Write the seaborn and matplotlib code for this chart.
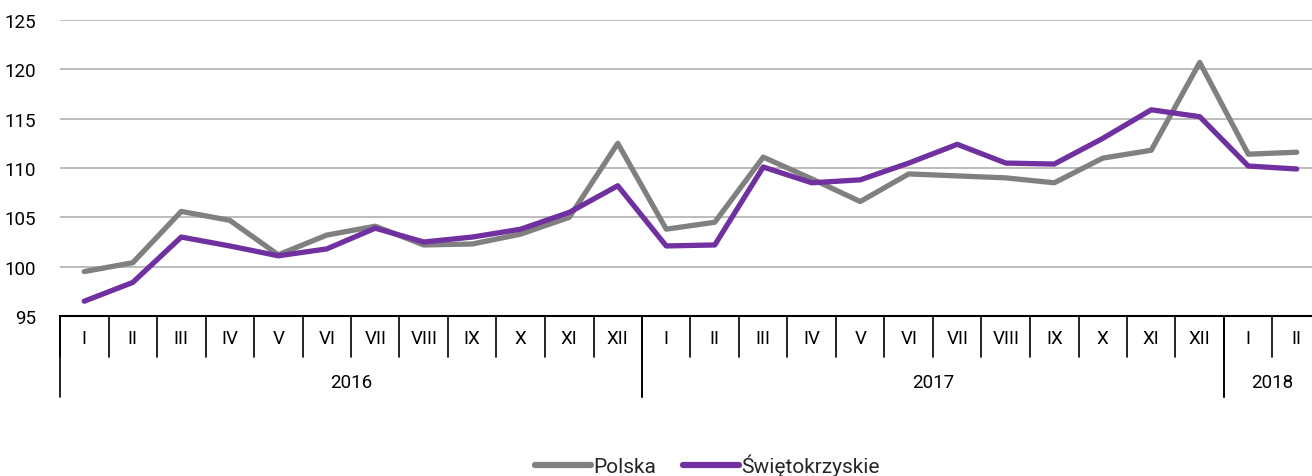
import numpy as np
import pandas as pd
import matplotlib
matplotlib.use("Agg")
import matplotlib.pyplot as plt
import matplotlib.transforms as mtransforms
import seaborn as sns

months = ["I", "II", "III", "IV", "V", "VI", "VII", "VIII", "IX", "X", "XI", "XII",
          "I", "II", "III", "IV", "V", "VI", "VII", "VIII", "IX", "X", "XI", "XII",
          "I", "II"]
years = ["2016", "2017", "2018"]
year_lengths = [12, 12, 2]
polska = [99.5, 100.4, 105.6, 104.7, 101.2, 103.2, 104.1, 102.2, 102.3, 103.3, 105.0, 112.5,
          103.8, 104.5, 111.1, 108.9, 106.6, 109.4, 109.2, 109.0, 108.5, 111.0, 111.8, 120.7,
          111.4, 111.6]
swietokrzyskie = [96.5, 98.4, 103.0, 102.1, 101.1, 101.8, 103.9, 102.5, 103.0, 103.8, 105.5, 108.2,
                  102.1, 102.2, 110.1, 108.5, 108.8, 110.5, 112.4, 110.5, 110.4, 113.0, 115.9, 115.2,
                  110.2, 109.9]
series_names = ["Polska", "Świętokrzyskie"]
colors = ["#808080", "#7030A0"]

sns.set_theme(style="white")
plt.rcParams["font.family"] = ["Roboto", "DejaVu Sans"]
FS = 13.5

n = len(months)
df = pd.DataFrame({
    "idx": list(range(n)) * 2,
    "value": polska + swietokrzyskie,
    "series": [series_names[0]] * n + [series_names[1]] * n,
})

W, H = 1312, 477
fig = plt.figure(figsize=(W / 100, H / 100), dpi=100)
left, right, top, bottom = 60, 1312, 21, 317
ax = fig.add_axes([left / W, 1 - bottom / H, (right - left) / W, (bottom - top) / H])

sns.lineplot(data=df, x="idx", y="value", hue="series", palette=colors,
             linewidth=3.8, ax=ax, legend=True)

month_w = 48.5
ax.set_xlim(-0.5, -0.5 + (right - left) / month_w)
ax.set_ylim(95, 125)
ax.set_yticks(np.arange(95, 126, 5))
ax.yaxis.grid(True, color="#b0b0b0", linewidth=1.2)
ax.xaxis.grid(False)
for s in ["left", "right", "top"]:
    ax.spines[s].set_visible(False)
ax.spines["bottom"].set_color("black")
ax.spines["bottom"].set_linewidth(1.5)
ax.tick_params(axis="y", length=0, pad=17, labelsize=FS, labelcolor="black")
ax.set_xticks(range(n))
ax.set_xticklabels(months)
ax.tick_params(axis="x", length=0, pad=9, labelsize=FS, labelcolor="black")
ax.set_xlabel("")
ax.set_ylabel("")

trans = mtransforms.blended_transform_factory(ax.transData, ax.transAxes)
ax_h = bottom - top
month_tick = -(358 - bottom) / ax_h
year_tick = -(398 - bottom) / ax_h
for i in range(n + 1):
    xb = i - 0.5
    ax.plot([xb, xb], [0, month_tick], transform=trans, color="black",
            linewidth=1.2, clip_on=False)
start = 0
for y, L in zip(years, year_lengths):
    for xb in (start - 0.5, start + L - 0.5):
        ax.plot([xb, xb], [0, year_tick], transform=trans, color="black",
                linewidth=1.2, clip_on=False)
    ax.text(start + (L - 1) / 2, -(383 - bottom) / ax_h, y, transform=trans,
            ha="center", va="center", fontsize=FS, color="black")
    start += L

handles, labels = ax.get_legend_handles_labels()
for h in handles:
    h.set_linewidth(4.5)
    h.set_solid_capstyle("round")
ax.legend(handles, labels, loc="center", bbox_to_anchor=(0.517, -(466 - bottom) / ax_h),
          ncol=2, frameon=False, fontsize=15, handlelength=2.7, handletextpad=0.1,
          columnspacing=1.3)

fig.savefig("out.png", dpi=100)
